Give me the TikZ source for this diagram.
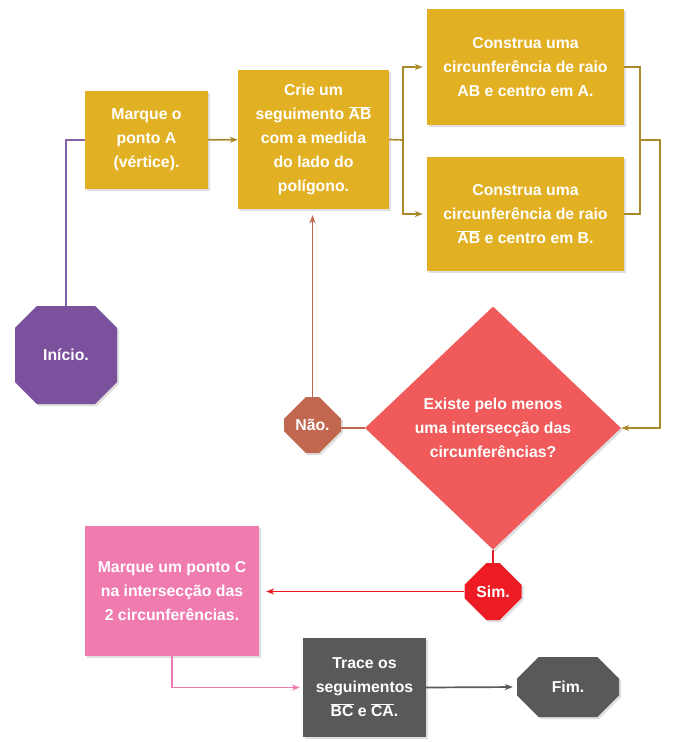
\documentclass[tikz,border=0pt]{standalone}
\usepackage{fontspec}
\setmainfont{Liberation Sans}
\usetikzlibrary{shapes.geometric,shapes.misc,shadows,arrows.meta}
\definecolor{ouro}{HTML}{E2B123}
\definecolor{linhaouro}{HTML}{A88A2C}
\definecolor{roxo}{HTML}{7B519E}
\definecolor{tijolo}{HTML}{C1664F}
\definecolor{coral}{HTML}{F05A5A}
\definecolor{vermelho}{HTML}{ED1C24}
\definecolor{rosa}{HTML}{F07BAF}
\definecolor{cinza}{HTML}{58595B}
\tikzset{>={Stealth[length=8pt,width=6pt,inset=2.5pt]}}
\tikzset{
  caixa/.style = {
    fill=#1, text=white, align=center, inner sep=0pt,
    font=\fontsize{15.8}{24}\selectfont\bfseries,
    drop shadow={shadow xshift=2pt, shadow yshift=-2pt, opacity=.25}
  },
  passo/.style = {caixa=#1, rectangle},
  octo/.style = {caixa=#1, chamfered rectangle, chamfered rectangle sep=16pt},
  tam/.style 2 args = {minimum width=#1pt, minimum height=#2pt},
  liga/.style = {draw=#1, line width=1.7pt}
}
\newcommand{\segm}[1]{$\overline{\mbox{#1}}$}

\begin{document}
\begin{tikzpicture}[x=1pt, y=-1pt]
  \useasboundingbox (0,0) rectangle (679,742);
  \node[octo=roxo, tam={102}{98}] (inicio) at (66,355) {Início.};
  \node[passo=ouro, tam={123}{98}] (marca) at (146.5,140) {Marque o\\ponto A\\(vértice).};
  \node[passo=ouro, tam={151}{139}] (seg) at (313.5,139.5) {Crie um\\seguimento \segm{AB}\\com a medida\\do lado do\\polígono.};
  \node[passo=ouro, tam={197}{116}] (circA) at (525.5,67) {Construa uma\\circunferência de raio\\AB e centro em A.};
  \node[passo=ouro, tam={197}{114}] (circB) at (525.5,214) {Construa uma\\circunferência de raio\\\segm{AB} e centro em B.};
  \node[caixa=coral, diamond, tam={256}{243}] (teste) at (493,428) {Existe pelo menos\\uma intersecção das\\circunferências?};
  \node[octo=tijolo, tam={57}{56}] (nao) at (312.5,425) {Não.};
  \node[octo=vermelho, tam={57}{57}] (sim) at (493,591.5) {Sim.};
  \node[passo=rosa, tam={174}{130}] (pontoC) at (172,591) {Marque um ponto C\\na intersecção das\\2 circunferências.};
  \node[passo=cinza, tam={123}{99}] (trace) at (364.5,687.5) {Trace os\\seguimentos\\\segm{BC} e \segm{CA}.};
  \node[octo=cinza, tam={102}{60}] (fim) at (568,687) {Fim.};
  % arrows
  \draw[liga=roxo!90!white] (inicio.north) |- (marca.west);
  \draw[liga=linhaouro, ->] (marca) -- (seg);
  \coordinate (bifurca) at (403,140);
  \draw[liga=linhaouro] (seg.east) -- (bifurca);
  \draw[liga=linhaouro, ->, shorten >=4pt] (bifurca) |- (circA.west);
  \draw[liga=linhaouro, ->, shorten >=4pt] (bifurca) |- (circB.west);
  \coordinate (junta) at (640,140);
  \coordinate (desce) at (660,140);
  \draw[liga=linhaouro] (circA.east) -| (junta) |- (circB.east);
  \draw[liga=linhaouro, ->] (junta) -- (desce) |- (teste.east);
  \draw[liga=tijolo] (teste.west) -- (teste.west -| nao.east);
  \draw[liga=tijolo, ->, shorten >=6pt] (nao.north) -- (nao.north |- seg.south);
  \draw[liga=vermelho] (teste.south) -- (sim.north);
  \draw[liga=vermelho, ->, shorten >=7pt] (sim.west) -- (sim.west -| pontoC.east);
  \draw[liga=rosa, ->, shorten >=3pt] (pontoC.south) |- (trace.west);
  \draw[liga=cinza, ->, shorten >=4pt] (trace.east) -- (fim.west);
\end{tikzpicture}
\end{document}
